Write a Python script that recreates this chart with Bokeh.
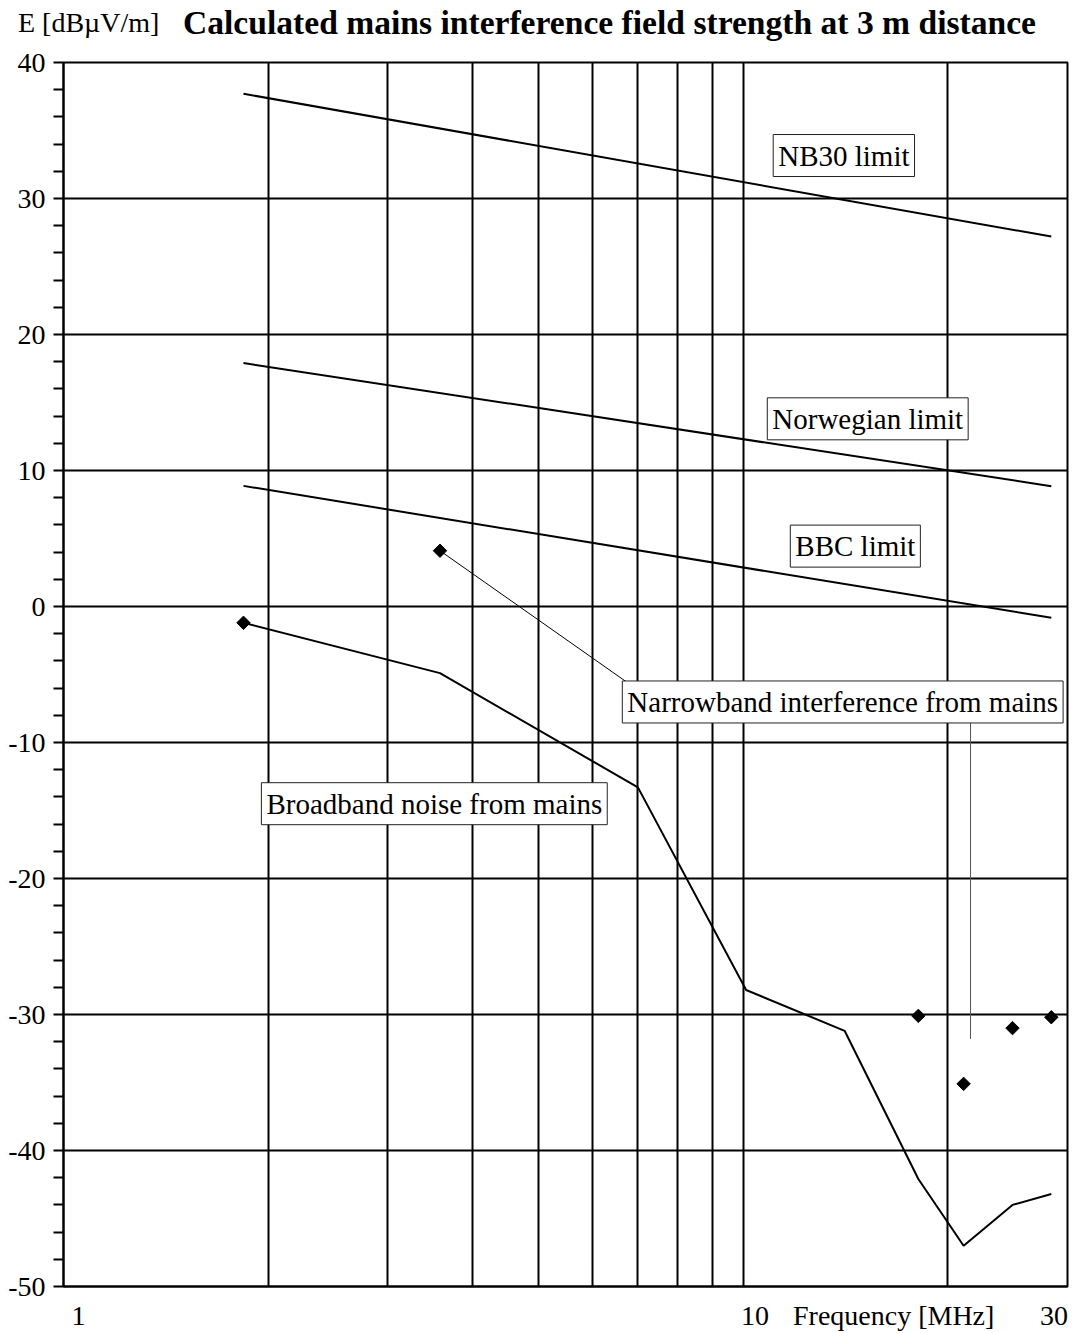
from bokeh.plotting import figure
from bokeh.layouts import column
from bokeh.models import FixedTicker, SingleIntervalTicker, Label, Range1d, PrintfTickFormatter, Div
from bokeh.embed import file_html
from bokeh.resources import INLINE

# ---- data ----
freq = [1.84, 3.58, 7.0, 10.1, 14.1, 18.1, 21.1, 24.9, 28.4]          # MHz
broadband = [-1.2, -4.9, -13.3, -28.2, -31.2, -42.1, -47.0, -44.0, -43.2]
nb_freq = [1.84, 3.58, 18.1, 21.1, 24.9, 28.4]
narrowband = [-1.2, 4.1, -30.1, -35.1, -31.0, -30.2]
limit_freq = [1.84, 28.4]
nb30_limit = [37.7, 27.2]
norwegian_limit = [17.9, 8.85]
bbc_limit = [8.87, -0.83]
x_grid_values = [2, 3, 4, 5, 6, 7, 8, 9, 10, 20, 30]
# bottom texts and where the reference prints them along the frequency axis
x_label_texts = ["1", "10", "Frequency [MHz]", "30"]
x_label_pos = [1.052, 10.41, 16.65, 28.67]

y_unit = "E [dBµV/m]"
title_text = "Calculated mains interference field strength at 3 m distance"

FONT = "Liberation Serif"
W = 1077
TOP_H = 44

# ---- title row (HTML text) ----
title_html = (
    f'<div style="position:relative;width:{W}px;height:{TOP_H}px;'
    f"font-family:'{FONT}',serif;color:black;\">"
    f'<span style="position:absolute;left:18px;top:9px;font-size:28px;line-height:28px;'
    f'white-space:nowrap;">{y_unit}</span>'
    f'<span style="position:absolute;left:183px;top:6px;font-size:33.6px;line-height:33.6px;'
    f'font-weight:bold;white-space:nowrap;">{title_text}</span></div>'
)
head = Div(text=title_html, width=W, height=TOP_H, styles={"margin": "0", "padding": "0"})

# ---- main chart ----
p = figure(width=W, height=1333 - TOP_H, x_axis_type="log",
           x_range=Range1d(1, 30), y_range=Range1d(-50, 40),
           output_backend="svg", toolbar_location=None,
           min_border_left=63, min_border_right=10,
           min_border_top=62 - TOP_H, min_border_bottom=46)

p.background_fill_color = "white"
p.border_fill_color = "white"
p.outline_line_color = "black"
p.outline_line_width = 2

# y axis
p.yaxis.ticker = SingleIntervalTicker(interval=10, num_minor_ticks=5)
p.yaxis.formatter = PrintfTickFormatter(format="%d")
p.yaxis.axis_line_color = "black"
p.yaxis.axis_line_width = 2
p.yaxis.major_tick_out = 0
p.yaxis.major_tick_in = 0
p.yaxis.minor_tick_out = 10
p.yaxis.minor_tick_in = 0
p.yaxis.minor_tick_line_color = "black"
p.yaxis.minor_tick_line_width = 2
p.yaxis.major_label_standoff = 8
p.yaxis.major_label_text_font = FONT
p.yaxis.major_label_text_font_size = "28px"
p.yaxis.major_label_text_color = "black"

# x axis: texts where the reference shows them, no tick marks
p.xaxis.ticker = FixedTicker(ticks=x_label_pos)
p.xaxis.major_label_overrides = {v: s for v, s in zip(x_label_pos, x_label_texts)}
p.xaxis.axis_line_color = "black"
p.xaxis.axis_line_width = 2
p.xaxis.major_tick_out = 0
p.xaxis.major_tick_in = 0
p.xaxis.minor_tick_out = 0
p.xaxis.minor_tick_in = 0
p.xaxis.major_label_standoff = 13
p.xaxis.major_label_text_font = FONT
p.xaxis.major_label_text_font_size = "28px"
p.xaxis.major_label_text_color = "black"

# grids
p.ygrid.ticker = SingleIntervalTicker(interval=10)
p.ygrid.grid_line_color = "black"
p.ygrid.grid_line_width = 2
p.xgrid.ticker = FixedTicker(ticks=x_grid_values)
p.xgrid.grid_line_color = "black"
p.xgrid.grid_line_width = 2

# limit lines
p.line(limit_freq, nb30_limit, line_color="black", line_width=2)
p.line(limit_freq, norwegian_limit, line_color="black", line_width=2)
p.line(limit_freq, bbc_limit, line_color="black", line_width=2)

# broadband noise
p.line(freq, broadband, line_color="black", line_width=2)

# narrowband markers
p.scatter(nb_freq, narrowband, marker="square", size=9.5, angle=0.785398,
          fill_color="black", line_color="black")

# leader lines (from data point to label anchors)
p.segment(x0=[nb_freq[1]], y0=[narrowband[1]], x1=[6.87], y1=[-5.85],
          line_color="black", line_width=1)
p.segment(x0=[21.6], y0=[-8.1], x1=[21.6], y1=[-31.8],
          line_color="#555555", line_width=1)

# boxed labels (x = box left, y = box centre)
boxed = [
    ("NB30 limit", 11.07, 33.16),
    ("Norwegian limit", 10.85, 13.80),
    ("BBC limit", 11.73, 4.44),
    ("Narrowband interference from mains", 6.64, -7.02),
    ("Broadband noise from mains", 1.955, -14.5),
]
for txt, lx, ly in boxed:
    p.add_layout(Label(x=lx, y=ly, text=txt, text_font=FONT, text_font_size="29px",
                       text_color="black", text_align="left", text_baseline="middle",
                       background_fill_color="white", border_line_color="#222222",
                       border_line_width=1, padding=5))

layout = column(head, p, spacing=0)
open("out.html", "w").write(file_html(layout, INLINE))
